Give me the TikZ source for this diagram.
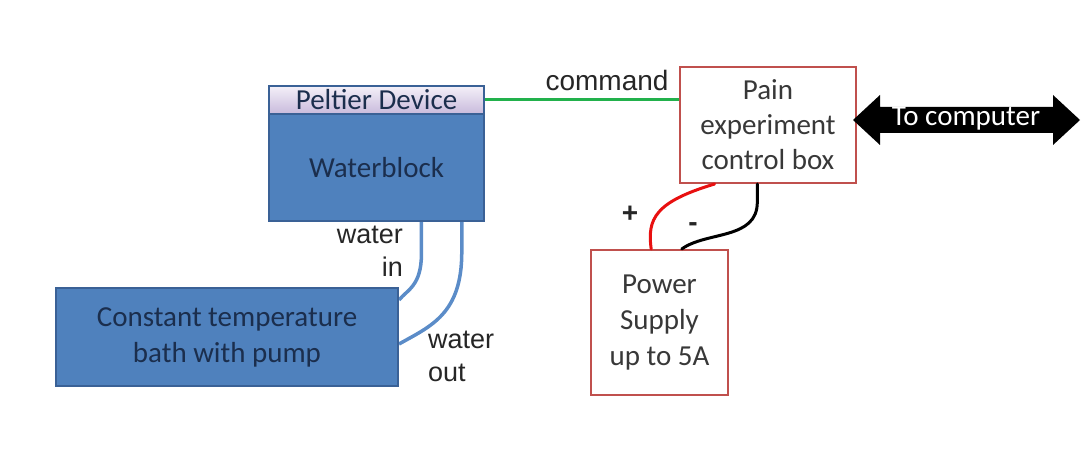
\documentclass[tikz,border=0pt]{standalone}
\usepackage{fontspec}
\setmainfont{Carlito}
\newfontfamily\arialf{Liberation Sans}
\usetikzlibrary{calc}
\definecolor{blockblue}{HTML}{4F81BD}
\definecolor{blockedge}{HTML}{3A6196}
\definecolor{navytext}{HTML}{1B2E4D}
\definecolor{boxred}{HTML}{C0504D}
\definecolor{lavtop}{HTML}{F4F0F8}
\definecolor{lavbot}{HTML}{C8BADC}
\definecolor{wiregreen}{HTML}{22B14C}
\definecolor{wirered}{HTML}{E81010}
\definecolor{pipeblue}{HTML}{5B8CC8}
\begin{document}
\begin{tikzpicture}[x=1pt,y=-1pt,
  boxfont/.style={font=\fontsize{29}{36}\selectfont},
  blue box/.style={boxfont, draw=blockedge, line width=2pt, fill=blockblue,
    text=navytext, align=center, anchor=north west, inner sep=0pt},
  peltier/.style={boxfont, draw=blockedge, line width=2pt, top color=lavtop,
    bottom color=lavbot, text=navytext, anchor=north west, inner sep=0pt},
  red box/.style={boxfont, draw=boxred, line width=2pt, fill=white,
    text=black!78, align=center, anchor=north west, inner sep=0pt},
  tag/.style={font=\arialf\fontsize{27}{30}\selectfont, text=black!85, inner sep=0pt},
  sign/.style={font=\arialf\bfseries\fontsize{28}{30}\selectfont, text=black!85, inner sep=0pt},
  pipe/.style={draw=pipeblue, line width=3.5pt},
  wire/.style={line width=3pt, line cap=round}]
\useasboundingbox (0,0) rectangle (1092,449);

% pipes first, so the boxes cover their ends
\node[blue box, minimum width=215pt, minimum height=107pt] (wb) at (268,113) {Waterblock};
\node[blue box, minimum width=342pt, minimum height=98pt] (bath) at (55,287)
  {Constant temperature\\bath with pump};
\draw[pipe] ($(wb.south west)!0.707!(wb.south east)$) -- ++(0,32)
  .. controls ++(0,32) and ++(8,-10) .. ($(bath.north east)!0.13!(bath.south east)$);
\draw[pipe] ($(wb.south west)!0.893!(wb.south east)$) -- ++(0,30)
  .. controls ++(0,62) and ++(32,-18) .. ($(bath.north east)!0.57!(bath.south east)$);
% redraw the boxes over the pipe ends
\node[blue box, minimum width=215pt, minimum height=107pt] at (268,113) {Waterblock};
\node[blue box, minimum width=342pt, minimum height=98pt] at (55,287)
  {Constant temperature\\bath with pump};
\node[peltier, minimum width=215pt, minimum height=28pt] (pd) at (268,85) {Peltier Device};

\node[red box, minimum width=176pt, minimum height=116pt, font=\fontsize{29}{35}\selectfont] (ctrl) at (679,66)
  {Pain\\experiment\\control box};
\node[red box, minimum width=137pt, minimum height=145pt] (ps) at (590,249)
  {Power\\Supply\\up to 5A};

% command line
\draw[wiregreen, line width=3pt] (pd.east) -- (ctrl.west |- pd.east);
\node[tag, font=\arialf\fontsize{28}{30}\selectfont] (cmd) at (607,80) {command};

% power wires
\draw[wire, wirered] ($(ctrl.south west)!0.2!(ctrl.south east)$)
  .. controls ++(-60,18) and ++(-4,-30) .. ($(ps.north west)!0.44!(ps.north east)$);
\draw[wire, black] ($(ctrl.south west)!0.44!(ctrl.south east)$) -- ++(0,18)
  .. controls ++(0,38) and ++(25,-18) .. ($(ps.north west)!0.66!(ps.north east)$);
\node[sign] (plus) at (630,214) {+};
\node[sign] (minus) at (693,227) {-};

% water labels
\node[tag, anchor=east] (win1) at (403,235) {water};
\node[tag, anchor=east] (win2) at (403,267) {in};
\node[tag, anchor=west] (wout1) at (428,340) {water};
\node[tag, anchor=west] (wout2) at (428,373) {out};

% link to the computer
\fill[black] (853,120) -- (880,95) -- (880,107) -- (1053,107) -- (1053,95)
  -- (1080,120) -- (1053,145) -- (1053,133) -- (880,133) -- (880,145) -- cycle;
\node[text=white, font=\fontsize{29}{30}\selectfont, inner sep=0pt] (pc) at (966,119) {To computer};
\end{tikzpicture}
\end{document}
